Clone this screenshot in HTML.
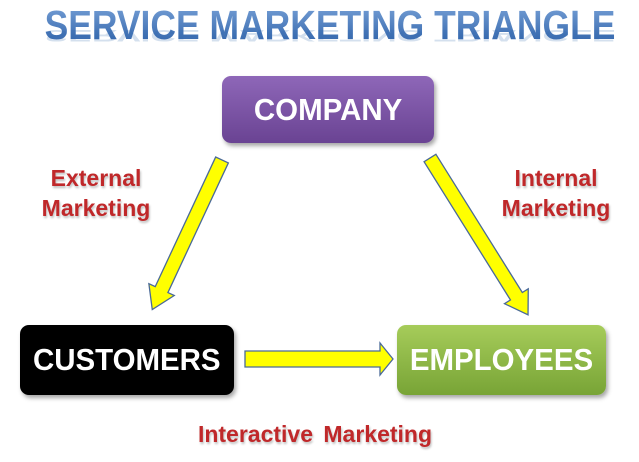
<!DOCTYPE html>
<html><head><meta charset="utf-8"><style>
body{margin:0;width:639px;height:462px;background:#fff;overflow:hidden;position:relative;font-family:"Liberation Sans",sans-serif}
.t{position:absolute;left:-95px;width:850px;text-align:center;top:2px;font-size:41px;font-weight:bold;white-space:nowrap;transform:scaleX(0.865);background:linear-gradient(#7aa3d8,#2a5ea6);-webkit-background-clip:text;background-clip:text;color:transparent}
.r{position:absolute;left:-95px;width:850px;text-align:center;top:45px;font-size:41px;font-weight:bold;white-space:nowrap;transform:scaleX(0.865) scaleY(-0.4);transform-origin:50% 0;color:#2f67b0;opacity:.2;height:47px;overflow:hidden}
.b{position:absolute;border-radius:9px;color:#fff;font-weight:bold;display:flex;align-items:center;justify-content:center;font-size:31px;box-shadow:2px 3px 4px rgba(0,0,0,.35)}
.b span{display:inline-block;transform:scaleX(0.95);white-space:nowrap}
.l{position:absolute;color:#c0282a;font-weight:bold;font-size:23px;text-align:center;line-height:30px;white-space:nowrap;text-shadow:1px 2px 2px rgba(0,0,0,.25)}
</style></head><body>
<div class="t">SERVICE MARKETING TRIANGLE</div>
<div class="r">SERVICE MARKETING TRIANGLE</div>
<div class="b" style="left:222px;top:76px;width:212px;height:67px;background:linear-gradient(#8e67b8,#6a4393)"><span>COMPANY</span></div>
<div class="b" style="left:20px;top:325px;width:214px;height:70px;background:#000"><span>CUSTOMERS</span></div>
<div class="b" style="left:397px;top:325px;width:209px;height:70px;background:linear-gradient(#a6cc5a,#78a436)"><span>EMPLOYEES</span></div>
<svg width="639" height="462" style="position:absolute;left:0;top:0">
<g fill="#ffff00" stroke="#4a6a98" stroke-width="1.3">
<polygon transform="translate(222,160) rotate(115)" points="0,-7 143,-7 143,-14 165,0 143,14 143,7 0,7"/>
<polygon transform="translate(430,158) rotate(58)" points="0,-7 163,-7 163,-14 185,0 163,14 163,7 0,7"/>
<polygon points="245,351 380,351 380,343 393,359 380,375 380,367 245,367"/>
</g></svg>
<div class="l" style="left:16px;top:163px;width:160px">External<br>Marketing</div>
<div class="l" style="left:476px;top:163px;width:160px">Internal<br>Marketing</div>
<div class="l" style="left:150px;top:419px;width:330px;word-spacing:4px">Interactive Marketing</div>
</body></html>
